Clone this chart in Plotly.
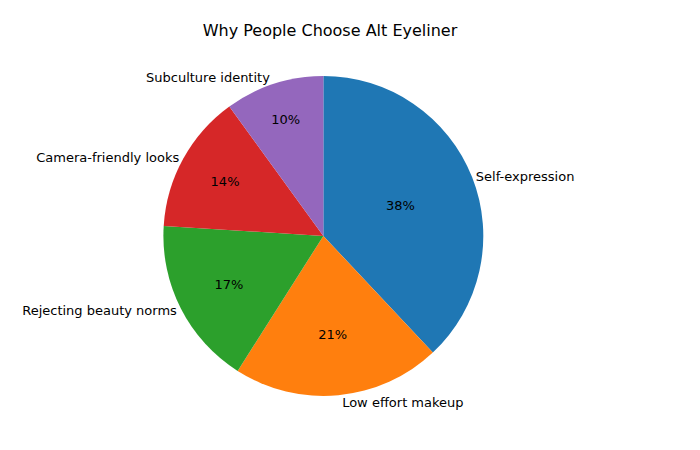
import plotly.graph_objects as go

labels = ["Self-expression", "Low effort makeup", "Rejecting beauty norms",
          "Camera-friendly looks", "Subculture identity"]
values = [38, 21, 17, 14, 10]
colors = ["#1f77b4", "#ff7f0e", "#2ca02c", "#d62728", "#9467bd"]

dom = dict(x=[0.222, 0.679], y=[0.138, 0.849])

fig = go.Figure()
# slices with percentages inside
fig.add_trace(go.Pie(
    labels=labels, values=values, sort=False, direction="clockwise",
    rotation=0, marker=dict(colors=colors), domain=dom,
    texttemplate="%{percent:.0%}", textposition="inside", insidetextorientation="horizontal",
    textfont=dict(color="black", size=13), showlegend=False, hoverinfo="label+percent",
))
# transparent copy for outside labels
fig.add_trace(go.Pie(
    labels=labels, values=values, sort=False, direction="clockwise",
    rotation=0, marker=dict(colors=["rgba(0,0,0,0)"] * 5), domain=dom,
    texttemplate="%{label}", textposition="outside",
    textfont=dict(color="black", size=13), showlegend=False, hoverinfo="skip",
))

fig.update_layout(
    width=700, height=450, margin=dict(l=0, r=0, t=0, b=0),
    paper_bgcolor="white", font=dict(family="DejaVu Sans"),
    title=dict(text="Why People Choose Alt Eyeliner", x=0.46, xanchor="center",
               y=0.95, yanchor="middle", font=dict(size=16, color="black")),
)
fig.write_html("out.html")
